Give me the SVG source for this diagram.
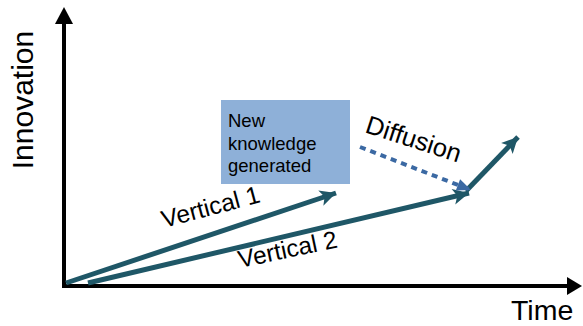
<svg xmlns="http://www.w3.org/2000/svg" width="583" height="326" viewBox="0 0 583 326">
<style>
text{font-family:"Liberation Sans",Arial,sans-serif;fill:#000}
.axis{stroke:#000;stroke-width:4;fill:none}
.vec{stroke:#1F5767;stroke-width:5;fill:none;marker-end:url(#teal)}
.dash{stroke:#3B69A3;stroke-width:4;stroke-dasharray:6 5;fill:none;marker-end:url(#blue)}
</style>
<defs>
<marker id="teal" markerUnits="userSpaceOnUse" markerWidth="20" markerHeight="20" refX="16" refY="8" orient="auto" overflow="visible">
<path d="M0,0 L16,8 L0,16 L4,8 Z" fill="#1F5767"/>
</marker>
<marker id="blue" markerUnits="userSpaceOnUse" markerWidth="20" markerHeight="20" refX="14" refY="6" orient="auto" overflow="visible">
<path d="M0,0 L14,6 L0,12 Z" fill="#3B69A3"/>
</marker>
</defs>
<g id="axes">
<path class="axis" d="M64,286 V22"/>
<path d="M55,24 L64,7 L73,24 Z" fill="#000"/>
<path class="axis" d="M62,286 H569"/>
<path d="M567,277 L582,286 L567,295 Z" fill="#000"/>
<text transform="translate(33,100) rotate(-90)" font-size="30" text-anchor="middle">Innovation</text>
<text x="511" y="320" font-size="28.5">Time</text>
</g>
<g id="knowledge">
<rect x="221" y="100" width="129" height="84" fill="#8EB0D8"/>
<text x="228" y="127" font-size="18.5">New</text>
<text x="228" y="150" font-size="18.5">knowledge</text>
<text x="228" y="172" font-size="18.5">generated</text>
</g>
<g id="connectors">
<line class="vec" x1="66" y1="283" x2="336" y2="193"/>
<line class="vec" x1="88" y1="283" x2="469" y2="193"/>
<line class="vec" x1="466" y1="191" x2="518" y2="137"/>
<line class="dash" x1="360" y1="147" x2="471" y2="190"/>
</g>
<g id="labels">
<text transform="translate(164,228) rotate(-15)" font-size="24.5">Vertical 1</text>
<text transform="translate(240,268) rotate(-12)" font-size="24.5">Vertical 2</text>
<text transform="translate(364,132) rotate(18)" font-size="25.5">Diffusion</text>
</g>
</svg>
